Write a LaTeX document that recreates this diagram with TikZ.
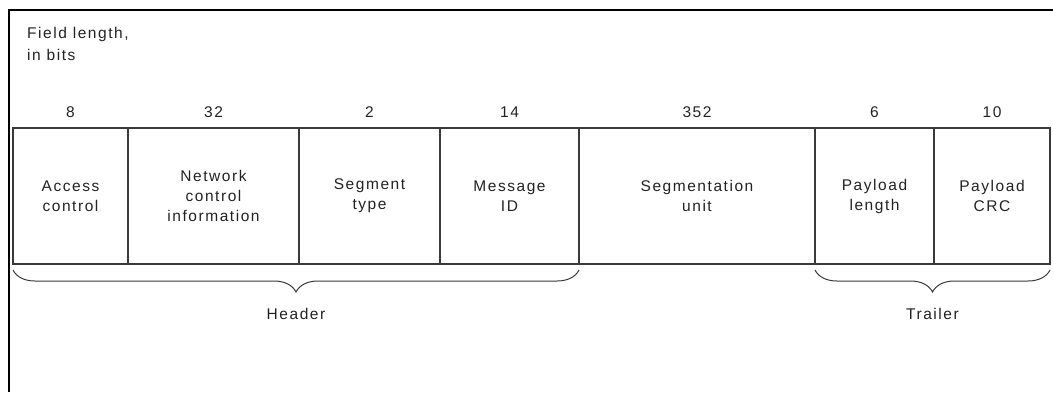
\documentclass[tikz,border=0pt]{standalone}
\usepackage{fontspec}
\setmainfont{Liberation Sans}
\newfontfamily\diafont[LetterSpace=10]{Liberation Sans}
\usetikzlibrary{positioning,decorations.pathreplacing}
\definecolor{linegray}{HTML}{3A3A3A}
\definecolor{inkgray}{HTML}{222222}
\tikzset{
  field/.style  = {draw=linegray, line width=1.1pt, align=center, inner sep=0pt,
                   outer sep=0pt, minimum height=136pt, text=inkgray,
                   font=\diafont\fontsize{15.5}{20}\selectfont},
  bits/.style   = {text=inkgray, inner sep=0pt, font=\diafont\fontsize{15.5}{16}\selectfont},
  brace/.style  = {draw=linegray, line width=1pt,
                   decorate, decoration={brace, mirror, amplitude=22pt}},
  part/.style   = {text=inkgray, inner sep=0pt, font=\diafont\fontsize{15.5}{16}\selectfont},
}

\begin{document}
\begin{tikzpicture}[x=1pt, y=-1pt]
  \useasboundingbox (0,0) rectangle (1053,392);
  % frame
  \draw[line width=1.8pt] (9,392) -- (9,10) -- (1053,10);
  \node[anchor=north west, align=left, text=inkgray, inner sep=0pt,
        font=\diafont\fontsize{15.5}{22}\selectfont] (title) at (27,27) {Field length,\\in bits};

  % fields
  \node[field, minimum width=115pt, anchor=north west] (acc) at (13,128) {Access\\control};
  \node[field, minimum width=171pt, right=0pt of acc] (nci) {Network\\control\\information};
  \node[field, minimum width=141pt, right=0pt of nci] (seg) {Segment\\type};
  \node[field, minimum width=139pt, right=0pt of seg] (mid) {Message\\ID};
  \node[field, minimum width=236pt, right=0pt of mid] (unit) {Segmentation\\unit};
  \node[field, minimum width=119pt, right=0pt of unit] (plen) {Payload\\length};
  \node[field, minimum width=116pt, right=0pt of plen] (crc) {Payload\\CRC};

  % field lengths
  \node[bits, above=10pt of acc.north]  {8};
  \node[bits, above=10pt of nci.north]  {32};
  \node[bits, above=10pt of seg.north]  {2};
  \node[bits, above=10pt of mid.north]  {14};
  \node[bits, above=10pt of unit.north] {352};
  \node[bits, above=10pt of plen.north] {6};
  \node[bits, above=10pt of crc.north]  {10};

  % header and trailer
  \draw[brace] ([yshift=-6pt]acc.south west) -- ([yshift=-6pt]mid.south east)
    node[part, midway, below=38pt] (hdr) {Header};
  \draw[brace] ([yshift=-6pt]plen.south west) -- ([yshift=-6pt]crc.south east)
    node[part, midway, below=38pt] (trl) {Trailer};
\end{tikzpicture}
\end{document}
